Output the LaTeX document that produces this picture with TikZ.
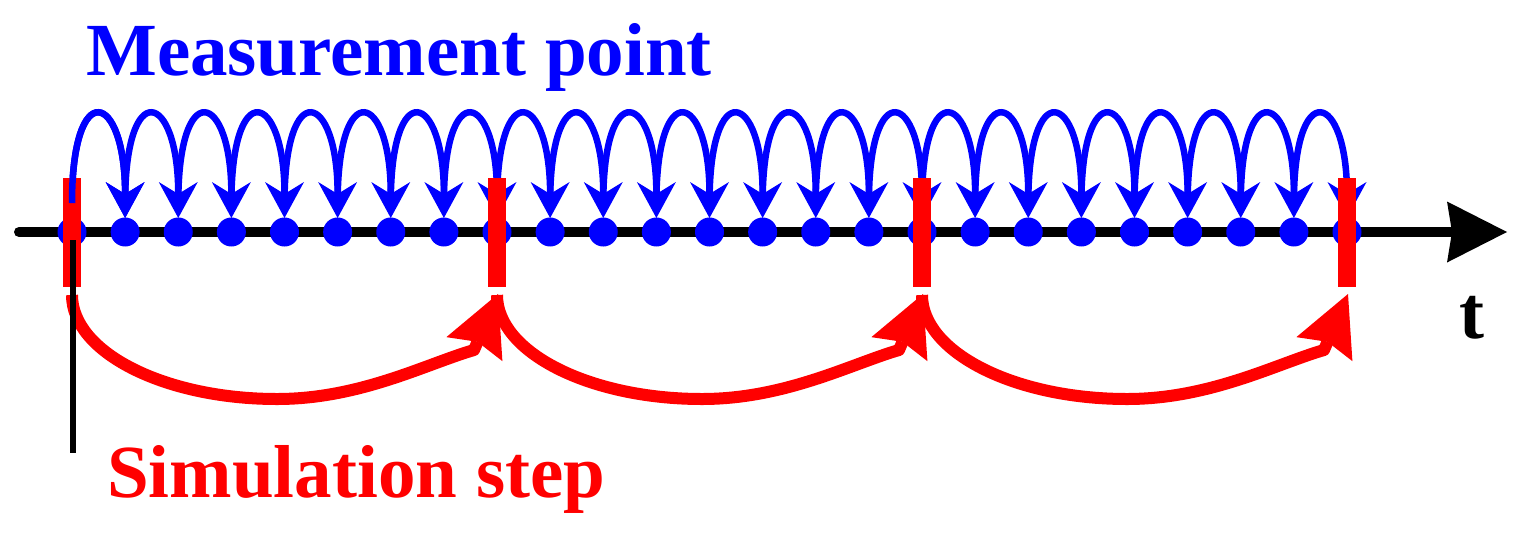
\documentclass[tikz,border=0pt]{standalone}
\usepackage{fontspec}
\setmainfont{Liberation Serif}
\usetikzlibrary{arrows.meta}
\begin{document}
\begin{tikzpicture}[x=1pt,y=-1pt,
  axisline/.style={line width=10pt, line cap=round, -{Stealth[length=60pt,width=61pt,inset=5pt,line width=0pt]}},
  mdot/.style={circle, fill=blue, inner sep=0pt, minimum size=29pt},
  hop/.style={blue, line width=6.5pt, -{Stealth[length=36pt,width=39pt,inset=12pt,line width=0pt]}},
  simbar/.style={rectangle, fill=red, draw=none, minimum width=18pt, minimum height=109pt, inner sep=0pt},
  simarc/.style={red, line width=12pt, line join=round, -{Stealth[length=60pt,width=61pt,inset=8pt,line width=0pt]}},
  marker/.style={black, line width=6pt},
  lbl/.style={font=\fontsize{75}{80}\selectfont\bfseries, inner sep=0pt, anchor=base west},
]
\useasboundingbox (0,0) rectangle (1536,550);
% time axis
\coordinate (a0) at (19,232);
\coordinate (a1) at (1507,232);
\draw[axisline] (a0) -- (a1);
% measurement points
\foreach \i in {0,...,24}{
  \node[mdot] (d\i) at ({72+53.125*\i},232) {};
  \coordinate (hs\i) at ({72+53.125*\i},203);
  \coordinate (he\i) at ({72+53.125*\i},218);
}
% hops between measurement points
\foreach \i in {0,...,23}{
  \pgfmathtruncatemacro\j{\i+1}
  \draw[hop] (hs\i) .. controls +(0,-127) and +(0,-127) .. (he\j);
}
% simulation step bars
\foreach \k/\i in {0/0,1/8,2/16,3/24}{
  \node[simbar] (b\k) at (d\i) {};
}
% first hop stays visible over the first bar
\draw[hop] (hs0) .. controls +(0,-127) and +(0,-127) .. (he1);
% simulation step arcs
\foreach \k in {0,1,2}{
  \pgfmathsetmacro\xs{72+425*\k}
  \pgfmathsetmacro\xe{\xs+425}
  \coordinate (rs\k) at (\xs,295);
  \coordinate (rm\k) at ({\xs+205},399);
  \coordinate (rk\k) at ({\xe-23},350);
  \coordinate (rt\k) at ({\xe+1},294);
  \draw[simarc] (rs\k) .. controls +(0,57) and +(-113,0) .. (rm\k)
     .. controls +(83,0) and +(-48,14) .. (rk\k) -- (rt\k);
}
% marker line
\coordinate (v0) at (73,240);
\coordinate (v1) at (73,453);
\draw[marker] (v0) -- (v1);
% labels
\node[lbl, text=blue] (mp) at (86,75) {Measurement point};
\node[lbl, text=red] (ss) at (107,497) {Simulation step};
\node[lbl, text=black] (tl) at (1459,338) {t};
\end{tikzpicture}
\end{document}
